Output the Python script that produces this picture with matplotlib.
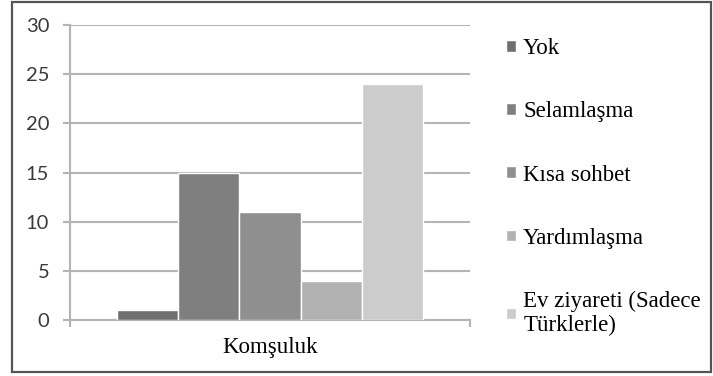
import numpy as np
import matplotlib
matplotlib.use('Agg')
import matplotlib.pyplot as plt
from matplotlib.patches import Rectangle

# veriler
group = 'Komşuluk'
labels = ['Yok', 'Selamlaşma', 'Kısa sohbet', 'Yardımlaşma', 'Ev ziyareti (Sadece\nTürklerle)']
values = [1, 15, 11, 4, 24]
colors = ['#6f6f6f', '#7f7f7f', '#8f8f8f', '#b2b2b2', '#cccccc']
yticks = [0, 5, 10, 15, 20, 25, 30]

W, H = 713, 376
fig = plt.figure(figsize=(W / 100, H / 100), dpi=100)
ax = fig.add_axes([70 / W, 1 - 320 / H, 400 / W, 295 / H])

width = 0.153
offsets = (np.arange(len(values)) - (len(values) - 1) / 2) * width
handles = []
for off, v, c, lab in zip(offsets, values, colors, labels):
    b = ax.bar(off, v, width=width, color=c, edgecolor='white', linewidth=1.0, label=lab, zorder=3)
    handles.append(b)

ax.set_xlim(-0.5, 0.5)
ax.set_ylim(0, 30)
ax.set_yticks(yticks)
ax.grid(axis='y', color='#b4b4b4', linewidth=1.5, zorder=0)
ax.set_axisbelow(True)

for s in ['top', 'right']:
    ax.spines[s].set_visible(False)
for s in ['left', 'bottom']:
    ax.spines[s].set_color('#b4b4b4')
    ax.spines[s].set_linewidth(1.5)

ax.tick_params(axis='y', length=5, width=1.5, color='#b4b4b4', pad=10)
for t in ax.get_yticklabels():
    t.set_family('Lato')
    t.set_fontsize(14.5)
    t.set_color('#3a3a3a')

ax.set_xticks([0])
ax.set_xticklabels([group], family='Liberation Serif', fontsize=16.5)
ax.tick_params(axis='x', which='major', length=0, pad=12)
ax.set_xticks([-0.5, 0.5], minor=True)
ax.tick_params(axis='x', which='minor', length=5, width=1.5, color='#b4b4b4')

fig.legend(handles=handles, labels=labels, loc='upper left',
           bbox_to_anchor=(497 / W, 1 - 29 / H), frameon=False,
           prop={'family': 'Liberation Serif', 'size': 16.5},
           handlelength=0.42, handleheight=0.42, handletextpad=0.32,
           labelspacing=1.84, borderaxespad=0)

# dış çerçeve
fig.patches.append(Rectangle((12 / W, 4 / H), 699 / W, 370 / H, transform=fig.transFigure,
                             fill=False, edgecolor='#555555', linewidth=1.6))

fig.savefig('out.png', dpi=100)
